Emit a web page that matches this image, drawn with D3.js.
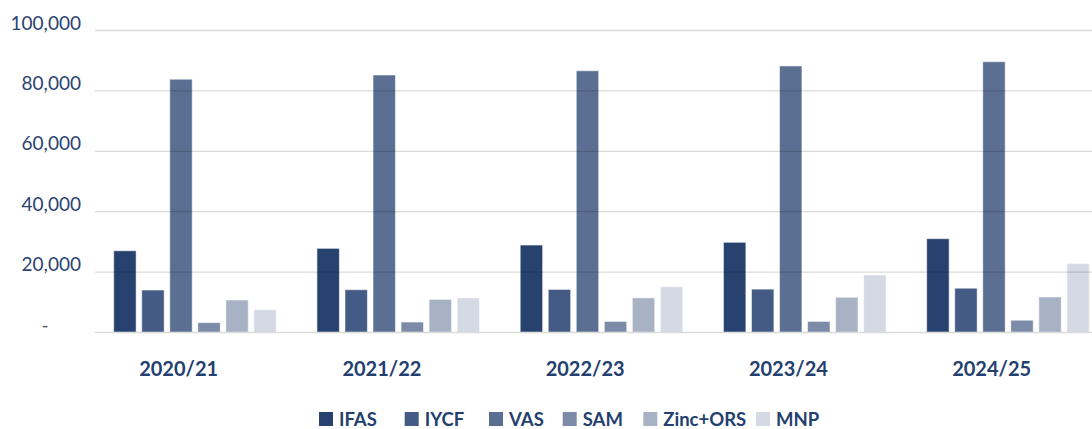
<!DOCTYPE html>
<html>
<head>
<meta charset="utf-8">
<script src="https://cdn.jsdelivr.net/npm/d3@7"></script>
<style>
  body { margin: 0; background: #fff; }
  svg { display: block; font-family: Lato, "Open Sans", sans-serif; }
</style>
</head>
<body>
<svg width="1092" height="429"></svg>
<script>
"use strict";

// 연도 (카테고리)
const years = ["2020/21", "2021/22", "2022/23", "2023/24", "2024/25"];
// 시리즈 이름
const series = ["IFAS", "IYCF", "VAS", "SAM", "Zinc+ORS", "MNP"];
// 시리즈별 값 (연도 순서)
const ifas = [26900, 27700, 28800, 29700, 30900];
const iycf = [13900, 14000, 14100, 14200, 14500];
const vas = [83700, 85100, 86500, 88100, 89500];
const sam = [3100, 3300, 3500, 3500, 3900];
const zincOrs = [10600, 10800, 11300, 11500, 11600];
const mnp = [7400, 11300, 15000, 18900, 22700];
const yTicks = [0, 20000, 40000, 60000, 80000, 100000];

const values = [ifas, iycf, vas, sam, zincOrs, mnp];
const colors = ["#27426f", "#445b85", "#5b6f92", "#7c8ba8", "#a8b2c5", "#d4d9e4"];

const svg = d3.select("svg");

const yScale = d3.scaleLinear().domain([0, 100000]).range([332, 30]);
// 연도 라벨이 밴드 중앙에 오도록 잡은 범위
const xScale = d3.scaleBand().domain(years).range([77, 1093.25]);
// 밴드 안에서 막대들 위치
const xInner = d3.scaleBand().domain(series).range([36.7, 199.3]).paddingInner(0.2);

// 막대
const rows = years.map((y, i) => series.map((s, j) => ({ year: y, key: s, value: values[j][i], idx: j })));

svg.append("g")
  .selectAll("g")
  .data(rows)
  .join("g")
  .attr("transform", (d) => `translate(${xScale(d[0].year)},0)`)
  .selectAll("rect")
  .data((d) => d)
  .join("rect")
  .attr("x", (d) => xInner(d.key))
  .attr("y", (d) => yScale(d.value))
  .attr("width", xInner.bandwidth())
  .attr("height", (d) => yScale(0) - yScale(d.value))
  .attr("fill", (d) => colors[d.idx])
  .attr("stroke", "rgba(255,255,255,0.55)")
  .attr("stroke-width", 1);

// 격자선 (막대 위에 반투명하게)
const yAxis = d3.axisRight(yScale).tickValues(yTicks).tickSize(997).tickFormat("");
svg.append("g")
  .attr("transform", "translate(95,0)")
  .call(yAxis)
  .call((g) => g.select(".domain").remove())
  .call((g) => g.selectAll(".tick line").attr("stroke", "rgba(0,0,0,0.14)").attr("stroke-width", 1.3));

// y축 라벨
svg.append("g")
  .selectAll("text")
  .data(yTicks)
  .join("text")
  .attr("x", (d) => (d === 0 ? 45 : 81))
  .attr("y", (d) => yScale(d) - 7)
  .attr("dy", "0.35em")
  .attr("text-anchor", (d) => (d === 0 ? "middle" : "end"))
  .attr("font-size", 19)
  .attr("fill", (d) => (d === 0 ? "#555" : "#2b4472"))
  .text((d) => (d === 0 ? "-" : d3.format(",")(d)));

// x축 라벨
svg.append("g")
  .selectAll("text")
  .data(years)
  .join("text")
  .attr("x", (d) => xScale(d) + xScale.bandwidth() / 2)
  .attr("y", 369)
  .attr("dy", "0.35em")
  .attr("text-anchor", "middle")
  .attr("font-size", 20)
  .attr("font-weight", "bold")
  .attr("fill", "#23406f")
  .text((d) => d);

// 범례
const legendX = [319, 404.7, 489, 562.7, 643.3, 756];
const legend = svg.append("g")
  .selectAll("g")
  .data(series)
  .join("g")
  .attr("transform", (d, i) => `translate(${legendX[i]},412)`);

legend.append("rect")
  .attr("width", 14)
  .attr("height", 14)
  .attr("fill", (d, i) => colors[i]);

legend.append("text")
  .attr("x", 20)
  .attr("y", 7)
  .attr("dy", "0.36em")
  .attr("font-size", 18.5)
  .attr("font-weight", "bold")
  .attr("fill", "#23406f")
  .text((d) => d);
</script>
</body>
</html>
